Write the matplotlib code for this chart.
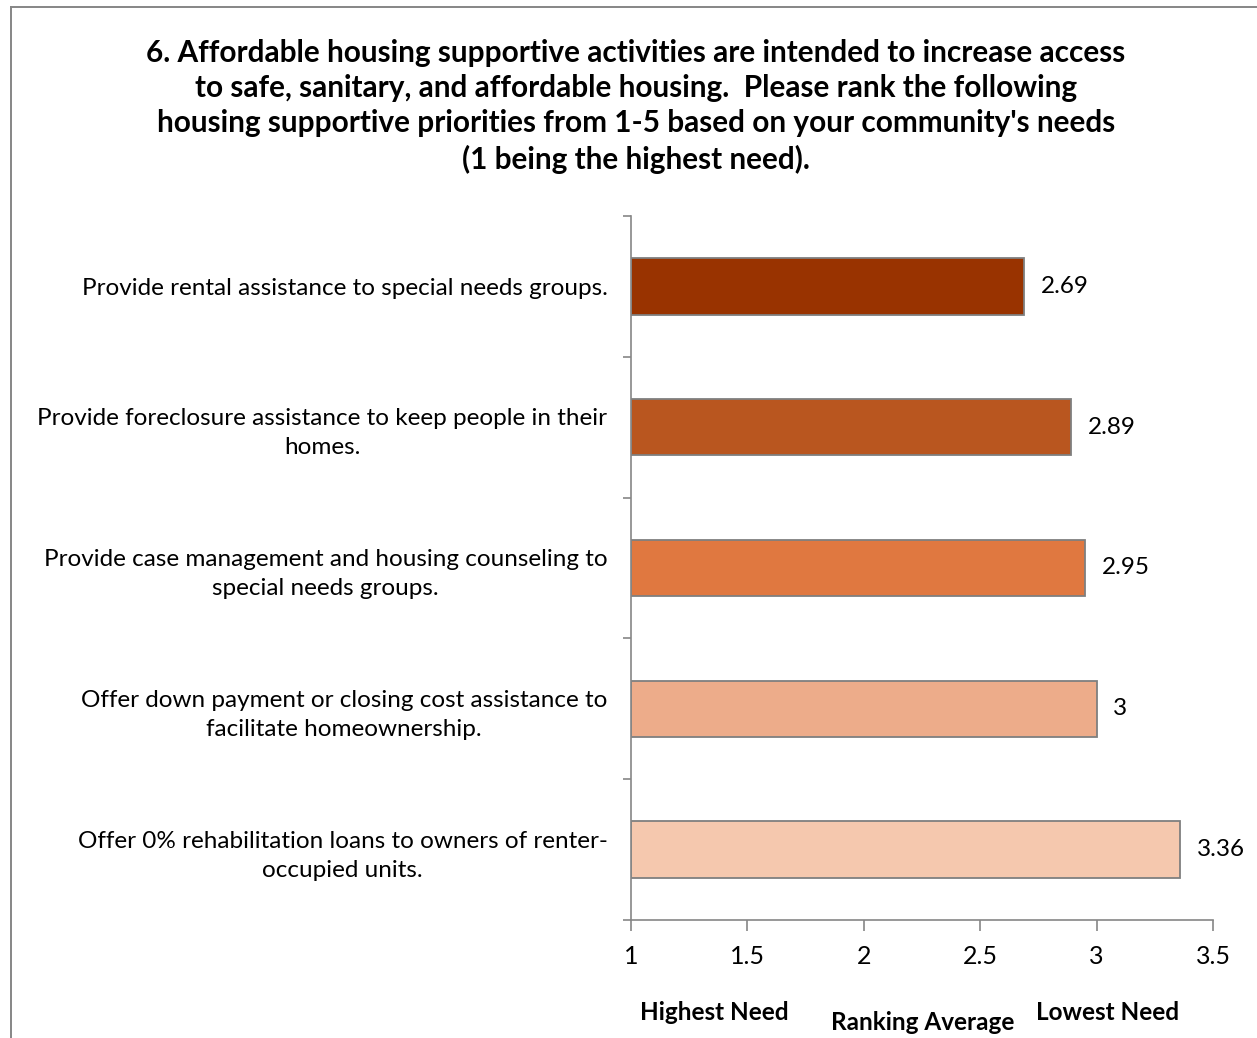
import matplotlib.pyplot as plt
from matplotlib.lines import Line2D

# survey question 6 - ranking averages (lower = higher need)
categories = [
    "Provide rental assistance to special needs groups.",
    "Provide foreclosure assistance to keep people in their\nhomes.",
    "Provide case management and housing counseling to\nspecial needs groups.",
    "Offer down payment or closing cost assistance to\nfacilitate homeownership.",
    "Offer 0% rehabilitation loans to owners of renter-\noccupied units.",
]
values = [2.69, 2.89, 2.95, 3, 3.36]
value_labels = ["2.69", "2.89", "2.95", "3", "3.36"]
colors = ["#993300", "#B9561F", "#E07840", "#EDAC8A", "#F5C8AE"]
xticks = [1, 1.5, 2, 2.5, 3, 3.5]
xtick_labels = ["1", "1.5", "2", "2.5", "3", "3.5"]

title = ("6. Affordable housing supportive activities are intended to increase access\n"
         "to safe, sanitary, and affordable housing.  Please rank the following\n"
         "housing supportive priorities from 1-5 based on your community's needs\n"
         "(1 being the highest need).")

plt.rcParams['font.family'] = ['Lato', 'DejaVu Sans']
axis_grey = "#868686"
fs = 17.5

fig = plt.figure(figsize=(12.57, 10.38), dpi=100)
ax = fig.add_axes([631 / 1257, 1 - 920 / 1038, (1213 - 631) / 1257, (920 - 216) / 1038])

pos = list(range(len(values)))
ax.barh(pos, [v - 1 for v in values], left=1, height=0.4, color=colors,
        edgecolor="#7F7F7F", linewidth=1.3)
for p, v, lab in zip(pos, values, value_labels):
    ax.annotate(lab, (v, p), xytext=(12, 0), textcoords="offset points",
                va="center", ha="left", fontsize=fs)

ax.set_xlim(1, 3.5)
ax.set_ylim(len(values) - 0.5, -0.5)
ax.set_xticks(xticks)
ax.set_xticklabels(xtick_labels, fontsize=fs + 0.5)
ax.set_yticks([i - 0.5 for i in range(len(values) + 1)])
ax.set_yticklabels([])
ax.set_yticks(pos, minor=True)
ax.set_yticklabels(categories, minor=True, fontsize=fs)
for t in ax.get_yticklabels(minor=True):
    t.set_multialignment("center")
    t.set_linespacing(1.47)

ax.tick_params(axis="y", which="major", length=6, color=axis_grey, width=1.2)
ax.tick_params(axis="y", which="minor", length=0, pad=17)
ax.tick_params(axis="x", length=8, color=axis_grey, width=1.2, pad=10)
for s in ["top", "right"]:
    ax.spines[s].set_visible(False)
for s in ["left", "bottom"]:
    ax.spines[s].set_color(axis_grey)
    ax.spines[s].set_linewidth(1.2)

fig.text(636 / 1257, 1 - 106.5 / 1038, title, ha="center", va="center",
         fontsize=21.4, fontweight="bold", linespacing=1.31)
fig.text(714 / 1257, 1 - 1013 / 1038, "Highest Need", ha="center", va="center",
         fontsize=fs, fontweight="bold")
fig.text(923 / 1257, 1 - 1022 / 1038, "Ranking Average", ha="center", va="center",
         fontsize=fs, fontweight="bold")
fig.text(1108 / 1257, 1 - 1013 / 1038, "Lowest Need", ha="center", va="center",
         fontsize=fs, fontweight="bold")

# chart area border (left and top edges)
fig.add_artist(Line2D([10.5 / 1257, 10.5 / 1257], [0, 1 - 7 / 1038],
                      transform=fig.transFigure, color=axis_grey, lw=1.4))
fig.add_artist(Line2D([10.5 / 1257, 1], [1 - 7 / 1038, 1 - 7 / 1038],
                      transform=fig.transFigure, color=axis_grey, lw=1.4))

fig.savefig("out.png", dpi=100)
